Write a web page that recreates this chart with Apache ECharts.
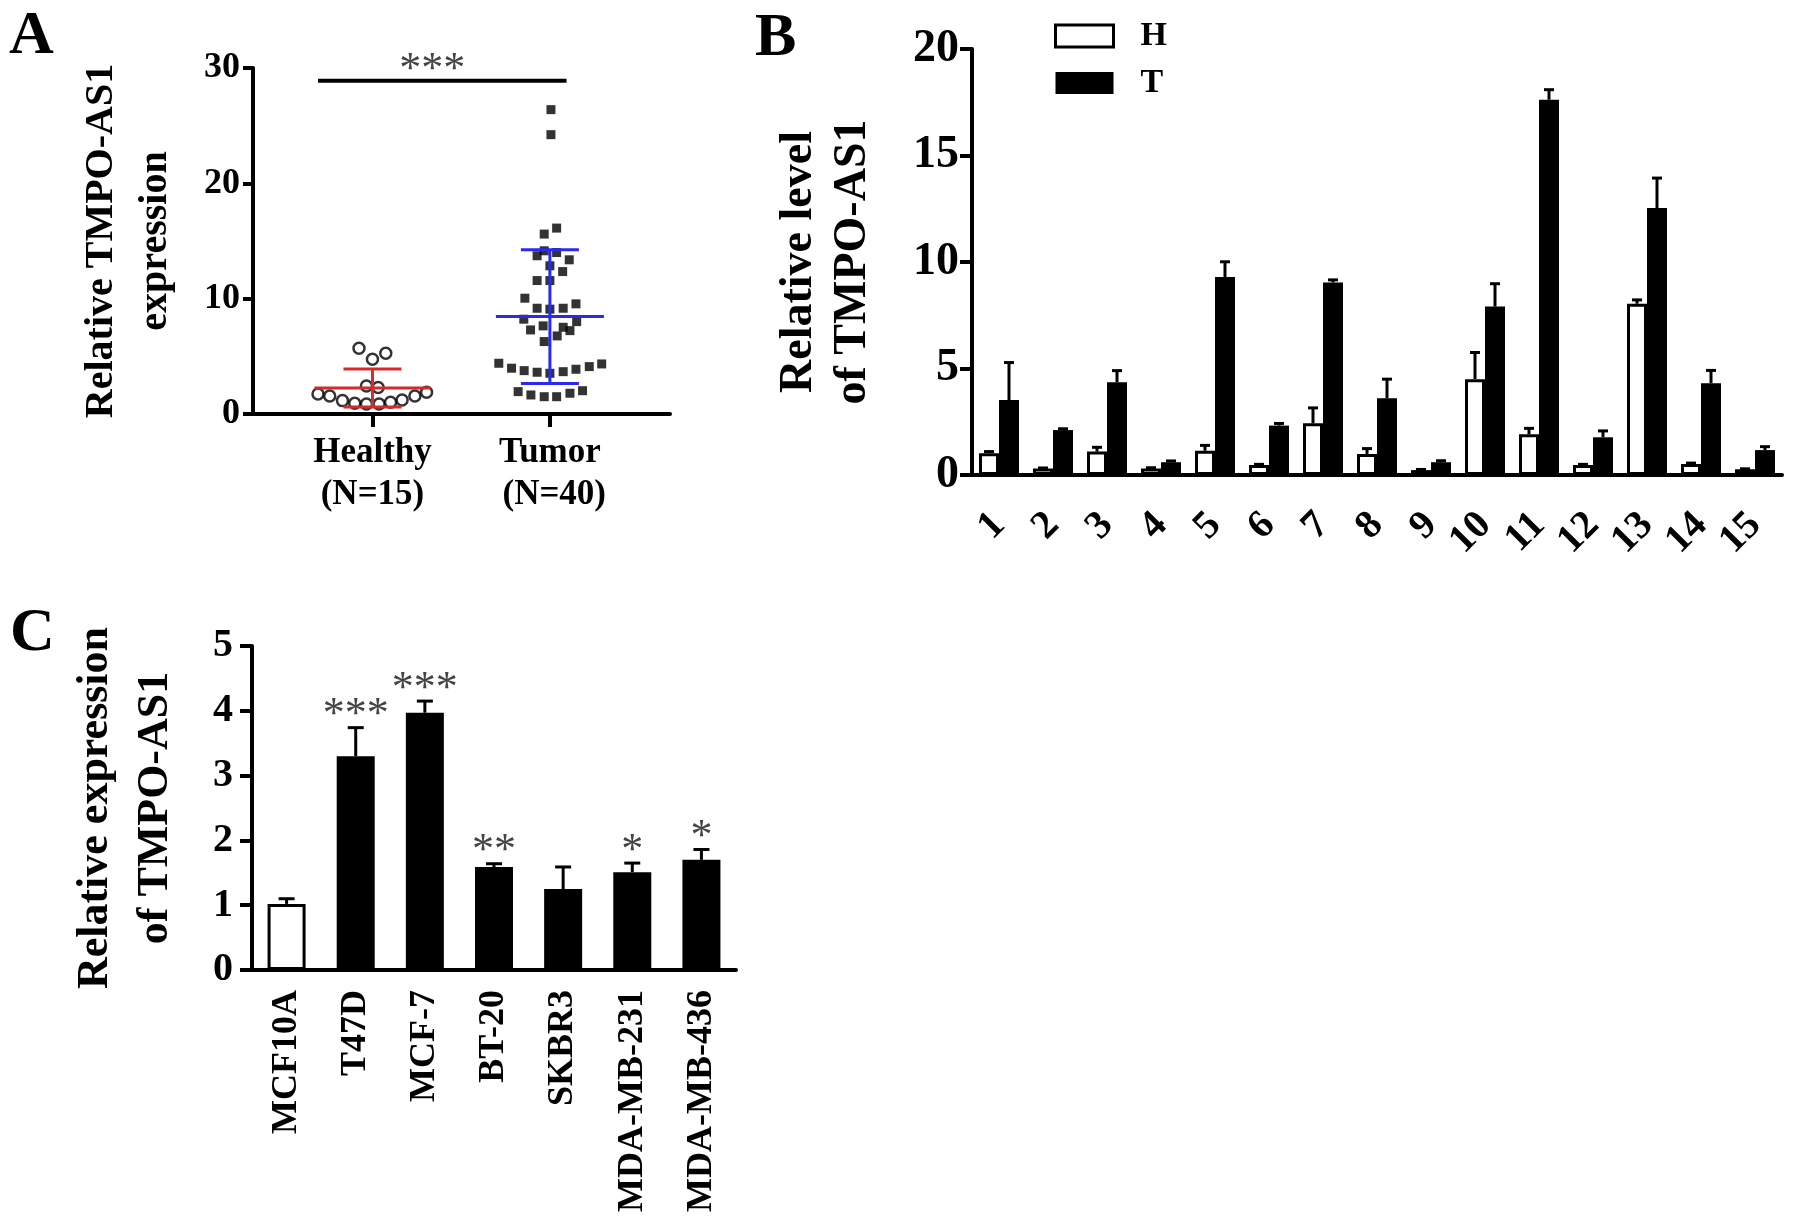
<!DOCTYPE html>
<html>
<head>
<meta charset="utf-8">
<script src="https://cdn.jsdelivr.net/npm/echarts@6/dist/echarts.min.js"></script>
<style>
  html, body { margin: 0; padding: 0; background: #fff; }
  #chart { width: 1795px; height: 1230px; }
</style>
</head>
<body>
<div id="chart"></div>
<script>
// ---- panel A: individual values, mean +/- SD ----
const healthyX = [0.924, 1.0, 1.075, 0.966, 1.032, 0.693, 0.759, 0.831, 0.9, 0.966, 1.037, 1.102, 1.167, 1.239, 1.305];
const healthyY = [5.70, 4.75, 5.27, 2.43, 2.29, 1.74, 1.56, 1.16, 0.93, 0.87, 0.87, 1.01, 1.22, 1.56, 1.88];
const tumorX = [2.006, 2.006, 2.038, 1.968, 1.968, 2.038, 1.928, 2.109, 2.0, 2.072,
  1.928, 2.0, 1.859, 2.147, 1.928, 2.0, 2.075, 1.853, 2.151, 1.891,
  1.962, 2.075, 2.113, 2.041, 1.968, 1.712, 1.784, 1.855, 1.928, 2.0,
  2.075, 2.147, 2.222, 2.292, 1.821, 1.893, 1.968, 2.038, 2.113, 2.184];
const tumorY = [26.39, 24.22, 16.12, 15.6, 14.15, 14.0, 13.72, 13.37, 12.85, 12.35,
  11.57, 11.57, 10.04, 9.55, 9.17, 9.09, 9.17, 8.22, 8.01, 7.29,
  7.64, 7.52, 7.23, 6.77, 6.28, 4.40, 3.97, 3.76, 3.62, 3.53,
  3.67, 3.88, 4.11, 4.34, 1.94, 1.65, 1.50, 1.50, 1.80, 2.02];
const groupNames = ['Healthy\n(N=15)', 'Tumor\n (N=40)'];
const groupMean = [2.25, 8.45];
const groupSD = [1.65, 5.8];
const sigBarX = [0.693, 2.094];
const sigBarY = 28.9;
const sigStarX = 1.337;

// ---- panel B: paired H / T samples ----
const patients = ['1', '2', '3', '4', '5', '6', '7', '8', '9', '10', '11', '12', '13', '14', '15'];
const levelH = [1.02, 0.30, 1.10, 0.31, 1.14, 0.47, 2.43, 0.99, 0.23, 4.50, 1.91, 0.47, 8.04, 0.52, 0.27];
const errH = [0.08, 0.03, 0.20, 0.03, 0.25, 0.03, 0.72, 0.25, 0.03, 1.25, 0.28, 0.03, 0.18, 0.04, 0.02];
const levelT = [3.52, 2.11, 4.35, 0.60, 9.29, 2.32, 9.04, 3.60, 0.60, 7.91, 17.62, 1.77, 12.53, 4.31, 1.17];
const errT = [1.76, 0.06, 0.55, 0.06, 0.72, 0.10, 0.12, 0.90, 0.07, 1.07, 0.47, 0.30, 1.41, 0.60, 0.16];

// ---- panel C: cell lines ----
const cellLines = ['MCF10A', 'T47D', 'MCF-7', 'BT-20', 'SKBR3', 'MDA-MB-231', 'MDA-MB-436'];
const cellExpr = [1.02, 3.30, 3.97, 1.59, 1.25, 1.51, 1.70];
const cellErr = [0.08, 0.44, 0.18, 0.05, 0.34, 0.14, 0.16];
const cellStars = ['', '***', '***', '**', '', '*', '*'];

const serif = '"Liberation Serif", "Times New Roman", serif';
const bold = { fontFamily: serif, fontWeight: 'bold', color: '#000' };
const axisLine = { show: true, onZero: false, lineStyle: { color: '#000', width: 4 } };
const starFont = '44px ' + serif;

// error bar pointing up only, drawn at bar centre + shift px
function upErrorBar(shift, capHalf, starGap) {
  return function (params, api) {
    const base = api.coord([api.value(0), api.value(1)]);
    const top = api.coord([api.value(0), api.value(2)]);
    const x = base[0] + shift;
    const kids = [
      { type: 'line', shape: { x1: x, y1: base[1], x2: x, y2: top[1] }, style: { stroke: '#000', lineWidth: 3 } },
      { type: 'line', shape: { x1: x - capHalf, y1: top[1], x2: x + capHalf, y2: top[1] }, style: { stroke: '#000', lineWidth: 3 } }
    ];
    if (starGap && api.value(3)) {
      kids.push({
        type: 'text',
        style: {
          x: x, y: top[1] - starGap, text: cellStars[params.dataIndex],
          font: starFont, fill: '#444', align: 'center', verticalAlign: 'middle'
        }
      });
    }
    return { type: 'group', children: kids };
  };
}

const meanColors = ['#d42a2a', '#2a2aee'];
const meanHalf = [58, 54];

const option = {
  backgroundColor: '#fff',
  animation: false,
  legend: {
    orient: 'vertical',
    left: 1049,
    top: 14,
    itemWidth: 58,
    itemHeight: 22,
    itemGap: 13,
    icon: 'rect',
    selectedMode: false,
    textStyle: Object.assign({ fontSize: 34, padding: [0, 0, 0, 22] }, bold),
    data: [
      { name: 'H', itemStyle: { color: '#fff', borderColor: '#000', borderWidth: 3 } },
      { name: 'T', itemStyle: { color: '#000' } }
    ]
  },
  graphic: [
    { type: 'text', x: 9, y: 6, style: { text: 'A', font: 'bold 62px ' + serif, fill: '#000', align: 'left', verticalAlign: 'top' } },
    { type: 'text', x: 755, y: 8, style: { text: 'B', font: 'bold 62px ' + serif, fill: '#000', align: 'left', verticalAlign: 'top' } },
    { type: 'text', x: 10, y: 603, style: { text: 'C', font: 'bold 62px ' + serif, fill: '#000', align: 'left', verticalAlign: 'top' } }
  ],
  grid: [
    { left: 253, top: 68, width: 417, height: 346 },
    { left: 972, top: 49, width: 810, height: 426 },
    { left: 252, top: 646, width: 484, height: 324 }
  ],
  xAxis: [
    {
      gridIndex: 0, type: 'value', min: 0.3266, max: 2.677,
      axisLine: axisLine,
      axisTick: { customValues: [1, 2], length: 13, lineStyle: { color: '#000', width: 4 } },
      axisLabel: Object.assign({
        customValues: [1, 2], fontSize: 35, lineHeight: 42, margin: 18,
        formatter: function (v) { return groupNames[Math.round(v) - 1]; }
      }, bold),
      splitLine: { show: false }
    },
    {
      gridIndex: 1, type: 'category', data: patients,
      axisLine: axisLine,
      axisTick: { alignWithLabel: true, length: 17, lineStyle: { color: '#000', width: 4 } },
      axisLabel: Object.assign({ interval: 0, rotate: 45, fontSize: 40, margin: 44 }, bold)
    },
    {
      gridIndex: 2, type: 'category', data: cellLines,
      axisLine: axisLine,
      axisTick: { alignWithLabel: true, length: 15, lineStyle: { color: '#000', width: 4 } },
      axisLabel: Object.assign({ interval: 0, rotate: 90, fontSize: 36, margin: 20 }, bold)
    }
  ],
  yAxis: [
    {
      gridIndex: 0, type: 'value', min: 0, max: 30, interval: 10,
      axisLine: axisLine,
      axisTick: { show: true, length: 10, lineStyle: { color: '#000', width: 4 } },
      axisLabel: Object.assign({ fontSize: 36, margin: 13 }, bold),
      splitLine: { show: false },
      name: 'Relative TMPO-AS1\nexpression', nameLocation: 'middle', nameGap: 70,
      nameTextStyle: Object.assign({ fontSize: 40, lineHeight: 54 }, bold)
    },
    {
      gridIndex: 1, type: 'value', min: 0, max: 20, interval: 5,
      axisLine: axisLine,
      axisTick: { show: true, length: 12, lineStyle: { color: '#000', width: 4 } },
      axisLabel: Object.assign({ fontSize: 46, margin: 13 }, bold),
      splitLine: { show: false },
      name: 'Relative level\nof TMPO-AS1', nameLocation: 'middle', nameGap: 92,
      nameTextStyle: Object.assign({ fontSize: 46, lineHeight: 54 }, bold)
    },
    {
      gridIndex: 2, type: 'value', min: 0, max: 5, interval: 1,
      axisLine: axisLine,
      axisTick: { show: true, length: 12, lineStyle: { color: '#000', width: 4 } },
      axisLabel: Object.assign({ fontSize: 40, margin: 19 }, bold),
      splitLine: { show: false },
      name: 'Relative expression\nof TMPO-AS1', nameLocation: 'middle', nameGap: 66,
      nameTextStyle: Object.assign({ fontSize: 44, lineHeight: 60 }, bold)
    }
  ],
  series: [
    // panel A
    {
      type: 'scatter', xAxisIndex: 0, yAxisIndex: 0, symbol: 'circle', symbolSize: 11,
      itemStyle: { color: '#fff', borderColor: '#000', borderWidth: 2.5 },
      data: healthyX.map((x, i) => [x, healthyY[i]])
    },
    {
      type: 'scatter', xAxisIndex: 0, yAxisIndex: 0, symbol: 'rect', symbolSize: 9,
      itemStyle: { color: '#000' },
      data: tumorX.map((x, i) => [x, tumorY[i]])
    },
    {
      type: 'custom', xAxisIndex: 0, yAxisIndex: 0, z: 5, clip: false,
      data: groupMean.map((m, i) => [i + 1, m, groupSD[i]]),
      renderItem: function (params, api) {
        const i = params.dataIndex;
        const c = api.coord([api.value(0), api.value(1)]);
        const hi = api.coord([api.value(0), api.value(1) + api.value(2)]);
        const lo = api.coord([api.value(0), api.value(1) - api.value(2)]);
        const st = { stroke: meanColors[i], lineWidth: 3 };
        return {
          type: 'group',
          children: [
            { type: 'line', shape: { x1: c[0] - meanHalf[i], y1: c[1], x2: c[0] + meanHalf[i], y2: c[1] }, style: st },
            { type: 'line', shape: { x1: c[0], y1: lo[1], x2: c[0], y2: hi[1] }, style: st },
            { type: 'line', shape: { x1: c[0] - 29, y1: hi[1], x2: c[0] + 29, y2: hi[1] }, style: st },
            { type: 'line', shape: { x1: c[0] - 29, y1: lo[1], x2: c[0] + 29, y2: lo[1] }, style: st }
          ]
        };
      }
    },
    {
      type: 'custom', xAxisIndex: 0, yAxisIndex: 0, clip: false,
      data: [[sigBarX[0], sigBarX[1], sigBarY, sigStarX]],
      renderItem: function (params, api) {
        const a = api.coord([api.value(0), api.value(2)]);
        const b = api.coord([api.value(1), api.value(2)]);
        const s = api.coord([api.value(3), api.value(2)]);
        return {
          type: 'group',
          children: [
            { type: 'line', shape: { x1: a[0], y1: a[1], x2: b[0], y2: b[1] }, style: { stroke: '#000', lineWidth: 4 } },
            { type: 'text', style: { x: s[0], y: s[1] - 10, text: '***', font: starFont, fill: '#444', align: 'center', verticalAlign: 'middle' } }
          ]
        };
      }
    },
    // panel B
    {
      name: 'H', type: 'bar', xAxisIndex: 1, yAxisIndex: 1, data: levelH,
      barWidth: 20, barGap: '0%',
      itemStyle: { color: '#fff', borderColor: '#000', borderWidth: 3 }
    },
    {
      name: 'T', type: 'bar', xAxisIndex: 1, yAxisIndex: 1, data: levelT,
      barWidth: 20, barGap: '0%',
      itemStyle: { color: '#000' }
    },
    {
      type: 'custom', xAxisIndex: 1, yAxisIndex: 1, clip: false,
      data: levelH.map((v, i) => [i, v, v + errH[i], 0]),
      renderItem: upErrorBar(-10, 5, 0)
    },
    {
      type: 'custom', xAxisIndex: 1, yAxisIndex: 1, clip: false,
      data: levelT.map((v, i) => [i, v, v + errT[i], 0]),
      renderItem: upErrorBar(10, 5, 0)
    },
    // panel C
    {
      type: 'bar', xAxisIndex: 2, yAxisIndex: 2, barWidth: 38,
      data: cellExpr.map((v, i) => i === 0
        ? { value: v, itemStyle: { color: '#fff', borderColor: '#000', borderWidth: 3 } }
        : { value: v, itemStyle: { color: '#000' } })
    },
    {
      type: 'custom', xAxisIndex: 2, yAxisIndex: 2, clip: false,
      data: cellExpr.map((v, i) => [i, v, v + cellErr[i], cellStars[i] ? 1 : 0]),
      renderItem: upErrorBar(0, 8, 12)
    }
  ]
};

const chart = echarts.init(document.getElementById('chart'));
chart.setOption(option);
</script>
</body>
</html>
